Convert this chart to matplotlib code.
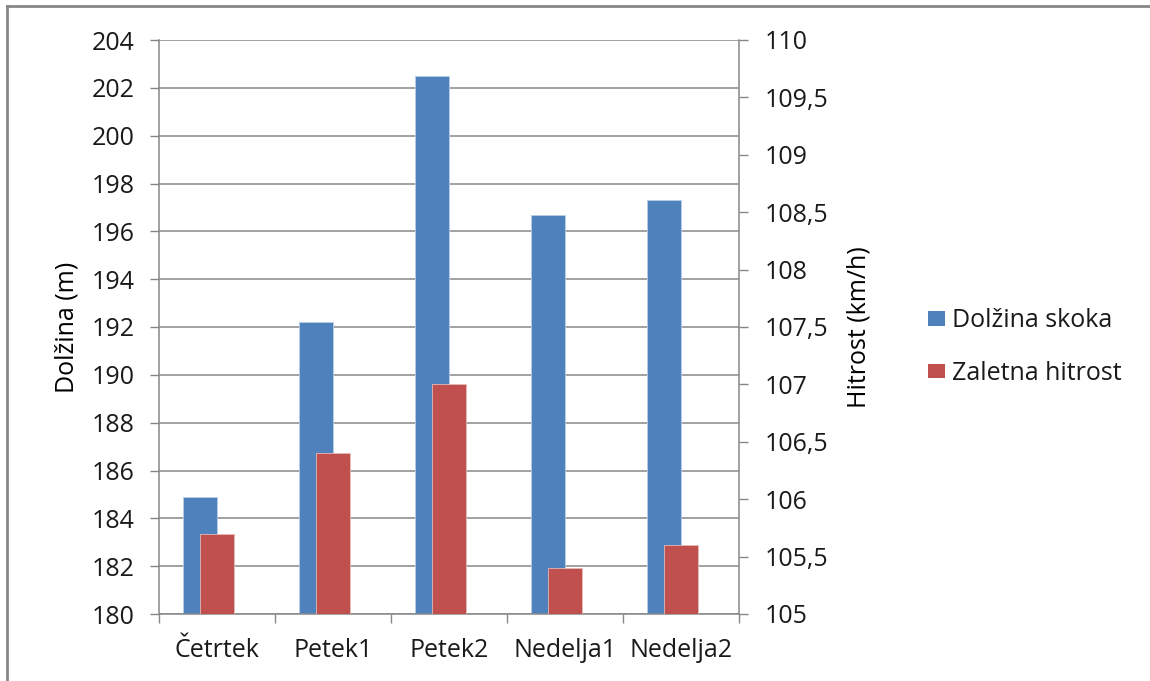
import numpy as np
import matplotlib.pyplot as plt
from matplotlib.lines import Line2D
from matplotlib.patches import Patch
from matplotlib.ticker import FixedLocator, FuncFormatter

# jump data per round
rounds = ['Četrtek', 'Petek1', 'Petek2', 'Nedelja1', 'Nedelja2']
dolzina = [184.9, 192.2, 202.5, 196.7, 197.3]     # jump length (m)
hitrost = [105.7, 106.4, 107.0, 105.4, 105.6]     # in-run speed (km/h)

blue = '#4F81BD'
red = '#C0504D'
grey = '#878787'

plt.rcParams['font.family'] = ['Open Sans', 'DejaVu Sans']
plt.rcParams['font.size'] = 18
plt.rcParams['text.color'] = '#1a1a1a'
plt.rcParams['xtick.labelcolor'] = '#1a1a1a'
plt.rcParams['ytick.labelcolor'] = '#1a1a1a'

W, H = 1150, 681
fig = plt.figure(figsize=(W / 100, H / 100), dpi=100)
ax = fig.add_axes([159 / W, 1 - 614 / H, 580 / W, 574 / H])
ax2 = ax.twinx()

x = np.arange(len(rounds))
bw = 0.29
ax.bar(x - bw / 2, dolzina, width=bw, color=blue, edgecolor='#b9cde5', linewidth=0.6, zorder=2)
ax2.bar(x, hitrost, width=bw, color=red, edgecolor='#e6b9b8', linewidth=0.6, zorder=2)

ax.set_xlim(-0.5, len(rounds) - 0.5)
ax.set_ylim(180, 204)
ax2.set_ylim(105, 110)

ax.set_yticks(np.arange(180, 205, 2))
ax2.set_yticks(np.arange(105, 110.01, 0.5))
ax2.yaxis.set_major_formatter(FuncFormatter(lambda v, p: f'{v:g}'.replace('.', ',')))

ax.set_xticks(x)
ax.set_xticklabels(rounds)
ax.xaxis.set_minor_locator(FixedLocator(np.arange(-0.5, len(rounds), 1)))
ax.tick_params(axis='x', which='major', length=0, pad=17)
ax.tick_params(axis='x', which='minor', length=6.5, color=grey, width=1)
ax.tick_params(axis='y', length=6.5, color=grey, width=1, pad=11)
ax2.tick_params(axis='y', length=6.5, color=grey, width=1, pad=12)

ax.grid(axis='y', color=grey, linewidth=1.1, zorder=0)
ax.set_axisbelow(True)

for a in (ax, ax2):
    for side in ('top', 'right', 'left', 'bottom'):
        a.spines[side].set_visible(False)
ax.spines['left'].set_visible(True)
ax.spines['bottom'].set_visible(True)
ax2.spines['right'].set_visible(True)
for s in (ax.spines['left'], ax.spines['bottom'], ax2.spines['right']):
    s.set_color(grey)
    s.set_linewidth(1.1)

ax.set_ylabel('Dolžina (m)')
ax2.set_ylabel('Hitrost (km/h)')
ax.yaxis.set_label_coords(-0.137, 0.5)
ax2.yaxis.set_label_coords(1.185, 0.5)

handles = [Patch(facecolor=blue, edgecolor='none', label='Dolžina skoka'),
           Patch(facecolor=red, edgecolor='none', label='Zaletna hitrost')]
fig.legend(handles=handles, loc='center left', bbox_to_anchor=(905 / W, 1 - 347 / H),
           frameon=False, fontsize=18, handlelength=0.68, handleheight=0.52,
           handletextpad=0.32, labelspacing=1.1)

# outer chart frame
fig.add_artist(Line2D([7 / W, 7 / W], [0, 1 - 6 / H], color=grey, linewidth=2))
fig.add_artist(Line2D([7 / W, 1], [1 - 6 / H, 1 - 6 / H], color=grey, linewidth=2))

fig.savefig('out.png', dpi=100)
